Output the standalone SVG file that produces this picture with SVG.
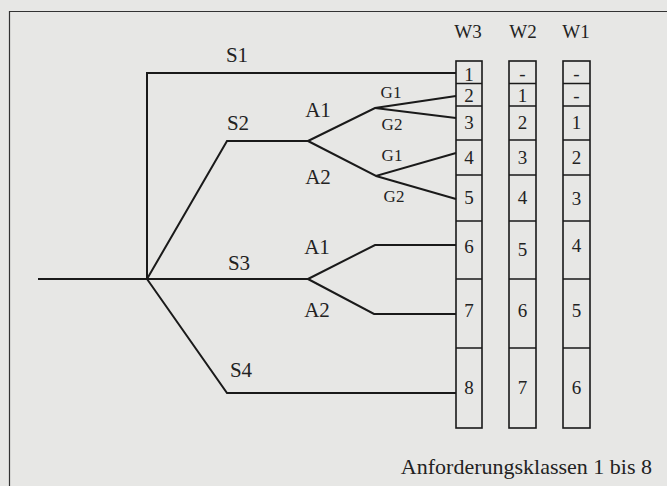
<svg xmlns="http://www.w3.org/2000/svg" width="667" height="486" viewBox="0 0 667 486">
<style>
  .ln{fill:none;stroke:#1a1a1a;stroke-width:2;stroke-linejoin:miter}
  .bx{fill:none;stroke:#1a1a1a;stroke-width:1.6}
  .t{font-family:"Liberation Serif","Times New Roman",serif;fill:#222;text-anchor:middle}
  .s{font-size:21px}
  .g{font-size:17px}
  .n{font-size:19px}
</style>
<rect x="0" y="0" width="667" height="486" fill="#e7e7e5"/>
<path d="M9.5 486 V11.5 H667" fill="none" stroke="#333" stroke-width="1.2"/>
<g id="connectors">
  <path class="ln" d="M38 279 H147"/>
  <path class="ln" d="M147 279 V73 H456"/>
  <path class="ln" d="M147 279 L227 141 H308"/>
  <path class="ln" d="M147 279 H308"/>
  <path class="ln" d="M147 279 L227 393 H456"/>
  <path class="ln" d="M308 141 L375 108 L456 96"/>
  <path class="ln" d="M375 108 L456 118"/>
  <path class="ln" d="M308 141 L376 176 L456 153"/>
  <path class="ln" d="M376 176 L456 199"/>
  <path class="ln" d="M308 279 L375 245 H456"/>
  <path class="ln" d="M308 279 L374 314 H456"/>
</g>
<g id="labels">
  <text class="t s" x="237" y="62">S1</text>
  <text class="t s" x="238" y="130">S2</text>
  <text class="t s" x="239" y="270">S3</text>
  <text class="t s" x="241" y="377">S4</text>
  <text class="t s" x="318" y="117">A1</text>
  <text class="t s" x="318" y="184">A2</text>
  <text class="t s" x="317" y="254">A1</text>
  <text class="t s" x="317" y="317">A2</text>
  <text class="t g" x="391" y="98">G1</text>
  <text class="t g" x="392" y="130">G2</text>
  <text class="t g" x="392" y="161">G1</text>
  <text class="t g" x="394" y="202">G2</text>
</g>
<g id="W3">
  <text class="t n" x="468" y="38">W3</text>
  <rect class="bx" x="456" y="61" width="26" height="367"/>
  <path class="bx" d="M456 83.5 H482 M456 106 H482 M456 140 H482 M456 175 H482 M456 221 H482 M456 279 H482 M456 348 H482"/>
  <text class="t n" x="469" y="81">1</text>
  <text class="t n" x="469" y="102">2</text>
  <text class="t n" x="469" y="129">3</text>
  <text class="t n" x="469" y="164">4</text>
  <text class="t n" x="469" y="204">5</text>
  <text class="t n" x="469" y="253">6</text>
  <text class="t n" x="469" y="317">7</text>
  <text class="t n" x="469" y="394">8</text>
</g>
<g id="W2">
  <text class="t n" x="523" y="38">W2</text>
  <rect class="bx" x="509" y="61" width="27" height="367"/>
  <path class="bx" d="M509 83.5 H536 M509 106 H536 M509 140 H536 M509 175 H536 M509 221 H536 M509 279 H536 M509 348 H536"/>
  <text class="t n" x="522.5" y="80">-</text>
  <text class="t n" x="522.5" y="102">1</text>
  <text class="t n" x="522.5" y="129">2</text>
  <text class="t n" x="522.5" y="164">3</text>
  <text class="t n" x="522.5" y="204">4</text>
  <text class="t n" x="522.5" y="256">5</text>
  <text class="t n" x="522.5" y="317">6</text>
  <text class="t n" x="522.5" y="394">7</text>
</g>
<g id="W1">
  <text class="t n" x="576" y="38">W1</text>
  <rect class="bx" x="563" y="61" width="27" height="367"/>
  <path class="bx" d="M563 83.5 H590 M563 106 H590 M563 140 H590 M563 175 H590 M563 221 H590 M563 279 H590 M563 348 H590"/>
  <text class="t n" x="576.5" y="80">-</text>
  <text class="t n" x="576.5" y="102">-</text>
  <text class="t n" x="576.5" y="129">1</text>
  <text class="t n" x="576.5" y="164">2</text>
  <text class="t n" x="576.5" y="205">3</text>
  <text class="t n" x="576.5" y="252">4</text>
  <text class="t n" x="576.5" y="317">5</text>
  <text class="t n" x="576.5" y="394">6</text>
</g>
<g id="caption">
  <text x="652" y="474" font-family="'Liberation Serif','Times New Roman',serif" font-size="22" fill="#222" text-anchor="end">Anforderungsklassen 1 bis 8</text>
</g>
</svg>
